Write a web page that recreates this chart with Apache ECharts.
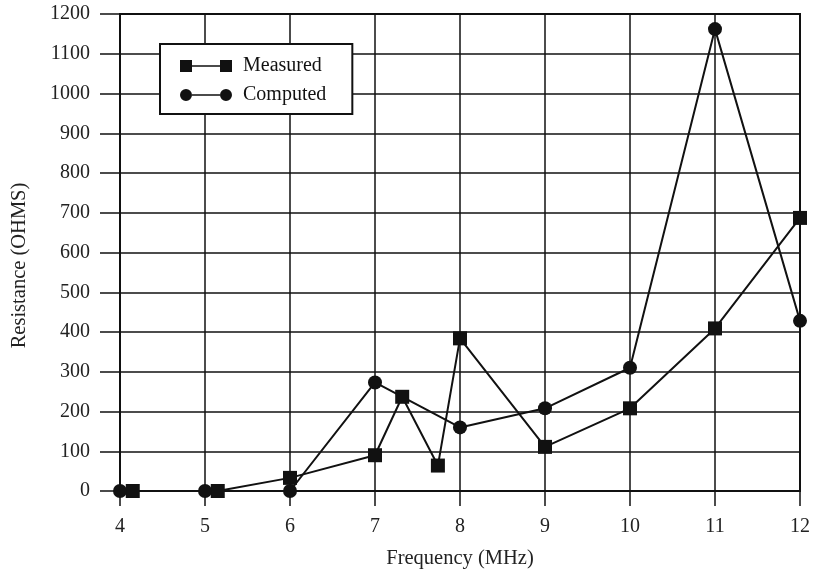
<!DOCTYPE html>
<html>
<head>
<meta charset="utf-8">
<script src="https://cdn.jsdelivr.net/npm/echarts@6/dist/echarts.min.js"></script>
<style>html,body{margin:0;padding:0;background:#fff}#c{width:819px;height:572px}</style>
</head>
<body>
<div id="c"></div>
<script>
const measuredX = [4.15, 5.15, 6, 7, 7.32, 7.74, 8, 9, 10, 11, 12];
const measuredY = [0, 0, 33, 90, 237, 64, 384, 111, 208, 409, 687];
const computedX = [4, 5, 6, 7, 8, 9, 10, 11, 12];
const computedY = [0, 0, 0, 273, 160, 208, 310, 1162, 428];
const seriesNames = ['Measured', 'Computed'];
const xTitle = 'Frequency (MHz)';
const yTitle = 'Resistance (OHMS)';

const font = '"Liberation Serif", "Times New Roman", serif';
const chart = echarts.init(document.getElementById('c'));
const sqIcon = 'path://M0,0 H12 V12 H0 Z M12,5.2 H40 V6.8 H12 Z M40,0 H52 V12 H40 Z';
const ciIcon = 'path://M0,6 A6,6 0 1,1 12,6 A6,6 0 1,1 0,6 Z M12,5.2 H40 V6.8 H12 Z M40,6 A6,6 0 1,1 52,6 A6,6 0 1,1 40,6 Z';
chart.setOption({
  animation: false,
  backgroundColor: '#fff',
  grid: { left: 120, right: 19, top: 14, bottom: 81, show: true, borderColor: '#111', borderWidth: 2, backgroundColor: 'transparent', containLabel: false, outerBoundsMode: 'none' },
  legend: {
    orient: 'vertical', left: 160, top: 44,
    backgroundColor: '#fff', borderColor: '#111', borderWidth: 2,
    padding: [12, 26, 9, 20], itemGap: 9, itemWidth: 52, itemHeight: 12,
    textStyle: { fontFamily: font, fontSize: 20, color: '#111', lineHeight: 19, padding: [0, 0, 0, 6] },
    data: [{ name: seriesNames[0], icon: sqIcon }, { name: seriesNames[1], icon: ciIcon }]
  },
  xAxis: {
    type: 'value', min: 4, max: 12, interval: 1,
    name: xTitle, nameLocation: 'middle', nameGap: 57,
    nameTextStyle: { fontFamily: font, fontSize: 20.5, color: '#222' },
    axisLine: { show: true, lineStyle: { color: '#111', width: 2 } },
    axisTick: { show: true, length: 15, lineStyle: { color: '#111', width: 1.5 } },
    axisLabel: { fontFamily: font, fontSize: 20, color: '#222', margin: 26 },
    splitLine: { show: true, lineStyle: { color: '#111', width: 1.5 } }
  },
  yAxis: {
    type: 'value', min: 0, max: 1200, interval: 100,
    name: yTitle, nameLocation: 'middle', nameGap: 90, nameRotate: 90,
    nameTextStyle: { fontFamily: font, fontSize: 20.5, color: '#222', padding: [0, 26, 0, 0] },
    axisLine: { show: true, lineStyle: { color: '#111', width: 2 } },
    axisTick: { show: true, length: 20, lineStyle: { color: '#111', width: 1.5 } },
    axisLabel: { fontFamily: font, fontSize: 20, color: '#222', margin: 30, formatter: v => String(v) },
    splitLine: { show: true, lineStyle: { color: '#111', width: 1.5 } }
  },
  series: [
    {
      name: seriesNames[0], type: 'line', clip: false,
      data: measuredX.map((x, i) => [x, measuredY[i]]),
      symbol: 'rect', symbolSize: 14,
      lineStyle: { color: '#111', width: 2 }, itemStyle: { color: '#111' }
    },
    {
      name: seriesNames[1], type: 'line', clip: false,
      data: computedX.map((x, i) => [x, computedY[i]]),
      symbol: 'circle', symbolSize: 14,
      lineStyle: { color: '#111', width: 2 }, itemStyle: { color: '#111' }
    }
  ]
});
</script>
</body>
</html>
